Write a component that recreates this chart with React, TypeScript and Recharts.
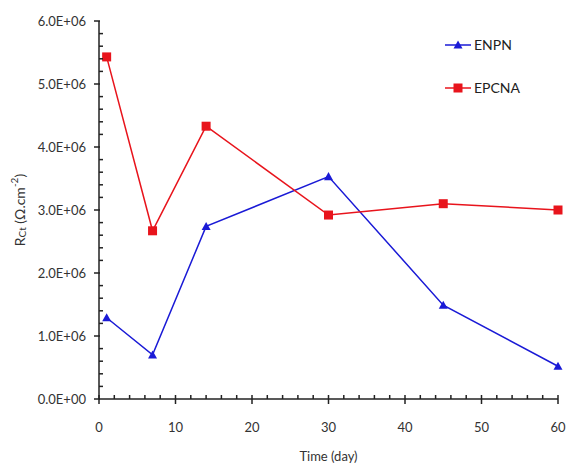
import React from 'react';
import { LineChart, Line, XAxis, YAxis } from 'recharts';

const days = [1, 7, 14, 30, 45, 60];
const enpn = [1.29e6, 0.70e6, 2.74e6, 3.53e6, 1.49e6, 0.52e6];
const epcna = [5.43e6, 2.67e6, 4.33e6, 2.92e6, 3.10e6, 3.00e6];
const xTicks = [0, 2, 4, 6, 8, 10, 12, 14, 16, 18, 20, 22, 24, 26, 28, 30, 32, 34, 36, 38, 40, 42, 44, 46, 48, 50, 52, 54, 56, 58, 60];
const yTicks = [0, 2e5, 4e5, 6e5, 8e5, 1e6, 1.2e6, 1.4e6, 1.6e6, 1.8e6, 2e6, 2.2e6, 2.4e6, 2.6e6, 2.8e6, 3e6, 3.2e6, 3.4e6, 3.6e6, 3.8e6, 4e6, 4.2e6, 4.4e6, 4.6e6, 4.8e6, 5e6, 5.2e6, 5.4e6, 5.6e6, 5.8e6, 6e6];
const yLabels: Record<string, string> = { '0': '0.0E+00', '10': '1.0E+06', '20': '2.0E+06', '30': '3.0E+06', '40': '4.0E+06', '50': '5.0E+06', '60': '6.0E+06' };

const data = days.map((d, i) => ({ day: d, ENPN: enpn[i], EPCNA: epcna[i] }));

const FONT = 'Lato, "Open Sans", sans-serif';
const BLUE = '#1a1ad6';
const RED = '#e8141c';
const AXIS = '#222';

const XTick = (props: any) => {
  const { x, y, payload } = props;
  const v = payload.value;
  const major = v % 10 === 0;
  return (
    <g>
      {major ? (
        <line x1={x} x2={x} y1={y - 4} y2={y + 5} stroke={AXIS} strokeWidth={1.5} />
      ) : (
        <line x1={x} x2={x} y1={y - 4} y2={y} stroke={AXIS} strokeWidth={1.5} />
      )}
      {major && (
        <text x={x} y={y + 33} textAnchor="middle" fontSize={13} fontFamily={FONT} fill="#333">
          {v}
        </text>
      )}
    </g>
  );
};

const YTick = (props: any) => {
  const { x, y, payload } = props;
  const k = Math.round(payload.value / 1e5);
  const major = k % 10 === 0;
  return (
    <g>
      {major ? (
        <line x1={x - 5} x2={x + 1} y1={y} y2={y} stroke={AXIS} strokeWidth={1.5} />
      ) : (
        <line x1={x} x2={x + 4} y1={y} y2={y} stroke={AXIS} strokeWidth={1.5} />
      )}
      {major && (
        <text x={x - 13} y={y + 4.5} textAnchor="end" fontSize={13} fontFamily={FONT} fill="#333">
          {yLabels[String(k)]}
        </text>
      )}
    </g>
  );
};

const Triangle = (props: any) => {
  const { cx, cy, fill } = props;
  if (cx == null || cy == null) return null;
  const s = 4.5;
  return <polygon points={`${cx},${cy - s} ${cx + s},${cy + s * 0.8} ${cx - s},${cy + s * 0.8}`} fill={fill} />;
};

const Square = (props: any) => {
  const { cx, cy, fill } = props;
  if (cx == null || cy == null) return null;
  const s = 4.5;
  return <rect x={cx - s} y={cy - s} width={s * 2} height={s * 2} fill={fill} />;
};

const YLabel = (props: any) => {
  const { viewBox } = props;
  const cx = 19;
  const cy = viewBox.y + viewBox.height / 2;
  return (
    <text
      x={cx}
      y={cy}
      transform={`rotate(-90, ${cx}, ${cy})`}
      textAnchor="middle"
      dominantBaseline="central"
      fontSize={14}
      fontFamily={FONT}
      fill="#333"
    >
      <tspan>R</tspan>
      <tspan fontSize={10} dy={3}>Ct</tspan>
      <tspan dy={-3}> (Ω.cm</tspan>
      <tspan fontSize={10} dy={-5}>-2</tspan>
      <tspan dy={5}>)</tspan>
    </text>
  );
};

const LegendBox = () => (
  <svg width={110} height={70} style={{ position: 'absolute', left: 443, top: 35 }}>
    <line x1={2} x2={28} y1={10} y2={10} stroke={BLUE} strokeWidth={1.5} />
    <Triangle cx={15} cy={10} fill={BLUE} />
    <text x={31} y={15} fontSize={14} fontFamily={FONT} fill="#222">ENPN</text>
    <line x1={2} x2={28} y1={53} y2={53} stroke={RED} strokeWidth={1.5} />
    <Square cx={15} cy={53} fill={RED} />
    <text x={31} y={58} fontSize={14} fontFamily={FONT} fill="#222">EPCNA</text>
  </svg>
);

export default function App() {
  return (
    <div style={{ position: 'absolute', left: 0, top: 0, width: 568, height: 463, background: '#fff' }}>
      <LineChart width={568} height={463} data={data} margin={{ top: 21, right: 10, bottom: 0, left: 39 }}>
        <XAxis
          dataKey="day"
          type="number"
          domain={[0, 60]}
          ticks={xTicks}
          interval={0}
          height={64}
          tickSize={0}
          tickMargin={0}
          tickLine={false}
          tick={<XTick />}
          axisLine={{ stroke: AXIS, strokeWidth: 1.5 }}
          label={{ value: 'Time (day)', position: 'insideBottom', offset: 2, fontSize: 13, fontFamily: FONT, fill: '#333' }}
        />
        <YAxis
          type="number"
          domain={[0, 6e6]}
          ticks={yTicks}
          interval={0}
          width={60}
          tickSize={0}
          tickMargin={0}
          tickLine={false}
          tick={<YTick />}
          axisLine={{ stroke: AXIS, strokeWidth: 1.5 }}
          label={<YLabel />}
        />
        <Line
          dataKey="ENPN"
          stroke={BLUE}
          strokeWidth={1.5}
          isAnimationActive={false}
          dot={<Triangle fill={BLUE} />}
          activeDot={false}
        />
        <Line
          dataKey="EPCNA"
          stroke={RED}
          strokeWidth={1.5}
          isAnimationActive={false}
          dot={<Square fill={RED} />}
          activeDot={false}
        />
      </LineChart>
      <LegendBox />
    </div>
  );
}
